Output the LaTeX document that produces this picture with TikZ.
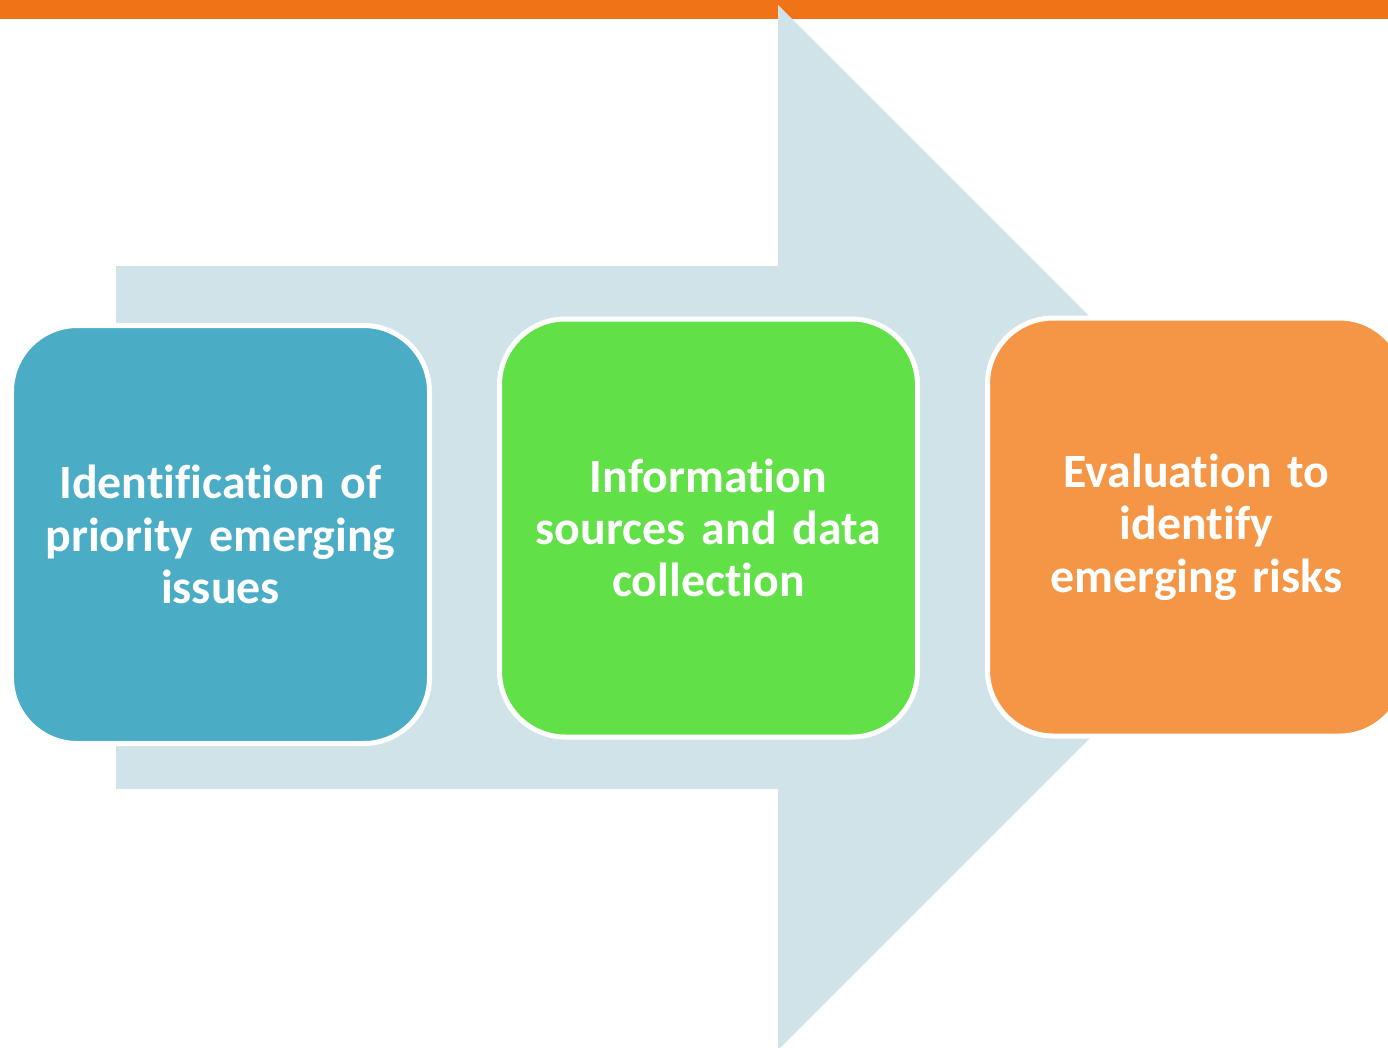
\documentclass[tikz,border=0pt]{standalone}
\usepackage{fontspec}
\setmainfont{Carlito}[Ligatures=NoCommon]
\definecolor{barC}{RGB}{240,116,23}
\definecolor{arrowC}{RGB}{208,227,232}
\definecolor{blueC}{RGB}{75,172,198}
\definecolor{greenC}{RGB}{97,224,71}
\definecolor{orangeC}{RGB}{245,150,70}
\begin{document}
\begin{tikzpicture}[x=0.5bp,y=-0.5bp,
  stagebox/.style={draw=white, line width=2.5bp, rounded corners=33bp,
    minimum width=209bp, minimum height=209bp, text width=200bp,
    align=center, text=white, inner sep=0pt,
    font=\fontsize{24}{26.25}\selectfont\bfseries}]
\clip (0,0) rectangle (1388,1047);
\fill[white] (0,0) rectangle (1388,1047);
\fill[barC] (0,0) rectangle (1388,18.5);
\fill[arrowC] (116,266) -- (778,266) -- (778,5) -- (1300.5,527.5)
  -- (778,1050) -- (778,789) -- (116,789) -- cycle;
\node[stagebox, fill=blueC] (s1) at (220.5,534.5)
  {Identification of\\priority emerging\\issues};
\node[stagebox, fill=greenC] (s2) at (708.5,528)
  {Information\\sources and data\\collection};
\node[stagebox, fill=orangeC] (s3) at (1196.5,527)
  {Evaluation to\\identify\\emerging risks};
\end{tikzpicture}
\end{document}
